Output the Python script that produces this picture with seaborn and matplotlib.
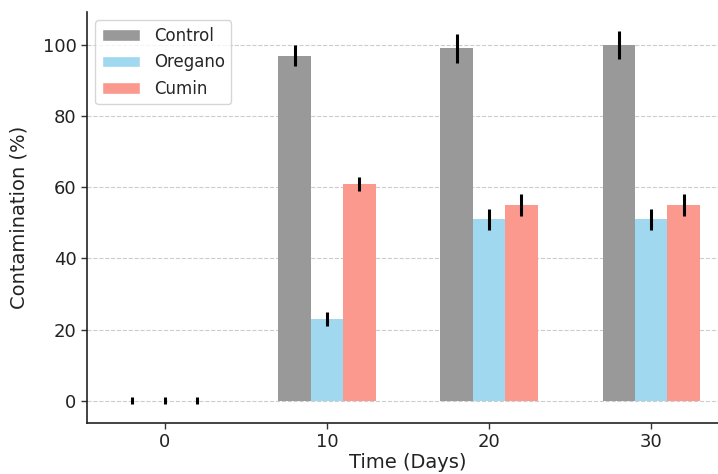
import numpy as np
import pandas as pd
import matplotlib
matplotlib.use("Agg")
import matplotlib.pyplot as plt
import seaborn as sns
from matplotlib.patches import Patch

days = [0, 10, 20, 30]
groups = ["Control", "Oregano", "Cumin"]
control = [0, 97, 99, 100]
oregano = [0, 23, 51, 51]
cumin = [0, 61, 55, 55]
control_err = [1, 3, 4, 4]
oregano_err = [1, 2, 3, 3]
cumin_err = [1, 2, 3, 3]

colors = {"Control": "#999999", "Oregano": "#9FD8EF", "Cumin": "#FB998E"}

rows = []
for g, vals, errs in [("Control", control, control_err),
                      ("Oregano", oregano, oregano_err),
                      ("Cumin", cumin, cumin_err)]:
    for d, v, e in zip(days, vals, errs):
        rows.append({"day": d, "value": v, "err": e, "group": g})
df = pd.DataFrame(rows)

sns.set_style("white")
plt.rcParams["font.family"] = ["DejaVu Sans"]

fig = plt.figure(figsize=(7.18, 4.74), dpi=100)
ax = fig.add_axes([87/718, 51/474, (729-87)/718, (423-12)/474])

sns.barplot(data=df, x="day", y="value", hue="group", hue_order=groups,
            native_scale=True, width=0.6, palette=colors, saturation=1,
            errorbar=None, linewidth=0, ax=ax, legend=False)

# error bars at bar centres
offsets = {"Control": -2, "Oregano": 0, "Cumin": 2}
for g in groups:
    sub = df[df.group == g]
    ax.errorbar(sub["day"] + offsets[g], sub["value"], yerr=sub["err"],
                fmt="none", ecolor="black", elinewidth=2.2, capsize=0, zorder=3)

ax.set_xlim(-4.8, 34.8)
ax.set_ylim(-6.25, 109.25)
ax.set_xticks(days)
ax.set_yticks([0, 20, 40, 60, 80, 100])
ax.tick_params(axis="both", labelsize=13, length=4, width=1, direction="out",
               bottom=True, left=True, colors="#333333", labelcolor="#222222")
ax.set_xlabel("Time (Days)", fontsize=14, color="#222222", labelpad=1)
ax.set_ylabel("Contamination (%)", fontsize=14, color="#222222", labelpad=10)
ax.yaxis.grid(True, linestyle="--", color="#cccccc", linewidth=0.8)
ax.set_axisbelow(True)
for s in ["top", "right"]:
    ax.spines[s].set_visible(False)
for s in ["left", "bottom"]:
    ax.spines[s].set_color("#222222")
    ax.spines[s].set_linewidth(1.2)

handles = [Patch(facecolor=colors[g], label=g) for g in groups]
ax.legend(handles=handles, loc="upper left", fontsize=12, frameon=True,
          handlelength=2.3)

fig.savefig("out.png", dpi=100)
